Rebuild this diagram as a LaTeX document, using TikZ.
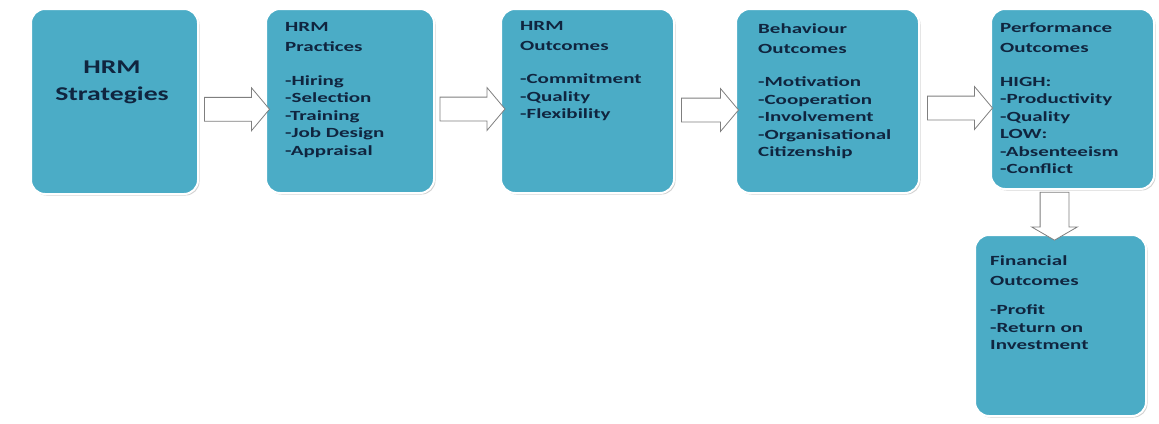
\documentclass[tikz,border=0pt]{standalone}
\usepackage{fontspec}
\setmainfont{Carlito}
\newfontfamily\widefont{Carlito}[FakeStretch=1.5]
\newfontfamily\titlefont{Carlito}[FakeStretch=1.42]
\usetikzlibrary{shapes.arrows,shadows,calc}
\definecolor{boxfill}{HTML}{4BACC6}
\definecolor{txt}{HTML}{10253F}
\definecolor{arr}{HTML}{7F7F7F}
\tikzset{
  box/.style={draw=white, line width=2pt, fill=boxfill, rounded corners=14pt,
    drop shadow={shadow xshift=1.5pt, shadow yshift=-1.5pt, opacity=0.35, fill=black!50},
    anchor=north west, inner sep=0pt},
  lbl/.style={anchor=north west, inner sep=0pt, align=left, text=txt,
    font=\widefont\bfseries\fontsize{14}{17.5}\selectfont},
  barrow/.style={single arrow, draw=arr, fill=white, line width=0.8pt,
    inner xsep=0pt, inner ysep=11.5pt, minimum width=0pt,
    single arrow head extend=9.5pt, single arrow tip angle=100},
}
\begin{document}
\begin{tikzpicture}[x=1pt,y=-1pt]
\useasboundingbox (0,0) rectangle (1159,423);
% boxes
\node[box, minimum width=167pt, minimum height=185pt] (b1) at (30,8) {};
\node[box, minimum width=168pt, minimum height=184pt] (b2) at (265,8) {};
\node[box, minimum width=173pt, minimum height=184pt] (b3) at (500,8) {};
\node[box, minimum width=183pt, minimum height=184pt] (b4) at (735,8) {};
\node[box, minimum width=163pt, minimum height=180pt] (b5) at (990,8) {};
\node[box, minimum width=171pt, minimum height=181pt] (b6) at (974,234) {};
% texts
\node[text=txt, align=center, inner sep=0pt,
  font=\titlefont\bfseries\fontsize{19.5}{27}\selectfont] (t1) at (112,82) {HRM\\Strategies};
\node[lbl] (t2) at (285,22.5) {HRM\\[2.5pt]Practices\\[16pt]-Hiring\\-Selection\\-Training\\-Job Design\\-Appraisal};
\node[lbl] (t3) at (520,21) {HRM\\[2.5pt]Outcomes\\[16pt]-Commitment\\-Quality\\-Flexibility};
\node[lbl] (t4) at (758,23) {Behaviour\\[2.5pt]Outcomes\\[16pt]-Motivation\\-Cooperation\\-Involvement\\-Organisational\\Citizenship};
\node[lbl] (t5) at (1000,23) {Performance\\[2.5pt]Outcomes\\[16pt]HIGH:\\-Productivity\\-Quality\\LOW:\\-Absenteeism\\-Conflict};
\node[lbl] (t6) at (990,255) {Financial\\[2.5pt]Outcomes\\[12pt]-Profit\\-Return on\\Investment};
% arrows
\node[barrow, minimum height=65pt] (a1) at ($(b1.east)!0.5!(b2.west)+(0,8)$) {};
\node[barrow, minimum height=65pt] (a2) at ($(b2.east)!0.5!(b3.west)+(0,8)$) {};
\node[barrow, minimum height=57pt] (a3) at ($(b3.east)!0.5!(b4.west)+(0,9)$) {};
\node[barrow, minimum height=65pt] (a4) at ($(b4.east)!0.5!(b5.west)+(0,8)$) {};
\node[barrow, shape border rotate=270, minimum height=48pt, inner xsep=14pt, inner ysep=0pt,
  single arrow head extend=8.5pt, single arrow tip angle=120] (a5) at ($(b5.south)!0.5!(b6.north)+(-12,0)$) {};
\end{tikzpicture}
\end{document}
